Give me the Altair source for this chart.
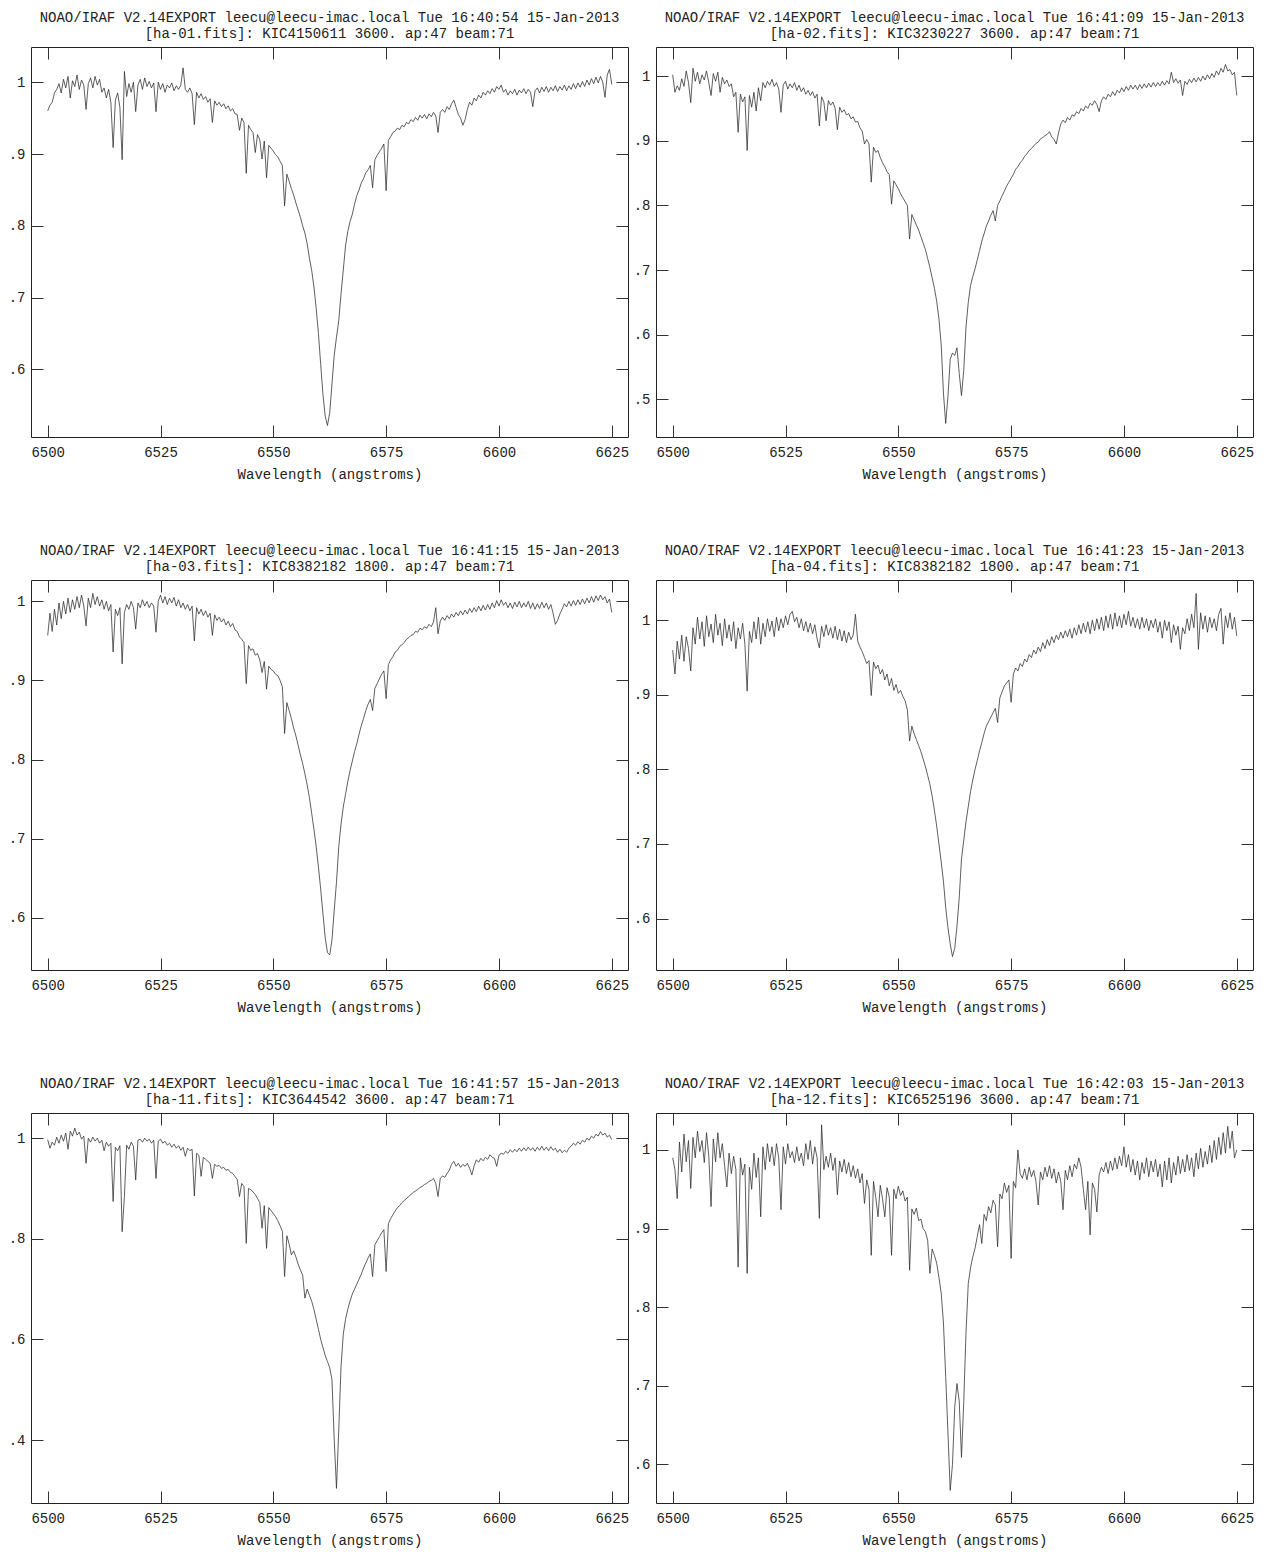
import altair as alt
import pandas as pd

FONT = "Liberation Mono"
INK = "#222222"

# Wavelength grid (angstroms), 0.5 A sampling from 6500 to 6625
WAVE_START = 6500.0
WAVE_STEP = 0.5

X_TICKS = [6500, 6525, 6550, 6575, 6600, 6625]
X_DOMAIN = [6496.3, 6628.6]

HEADER = "NOAO/IRAF V2.14EXPORT leecu@leecu-imac.local Tue {} 15-Jan-2013"

TIMES = ["16:40:54", "16:41:09", "16:41:15", "16:41:23", "16:41:57", "16:42:03"]
SUBTITLES = [
    "[ha-01.fits]: KIC4150611 3600. ap:47 beam:71",
    "[ha-02.fits]: KIC3230227 3600. ap:47 beam:71",
    "[ha-03.fits]: KIC8382182 1800. ap:47 beam:71",
    "[ha-04.fits]: KIC8382182 1800. ap:47 beam:71",
    "[ha-11.fits]: KIC3644542 3600. ap:47 beam:71",
    "[ha-12.fits]: KIC6525196 3600. ap:47 beam:71",
]

Y_DOMAINS = [
    [0.506, 1.049],
    [0.442, 1.045],
    [0.534, 1.027],
    [0.531, 1.054],
    [0.275, 1.050],
    [0.551, 1.047],
]
Y_TICKS = [
    [0.6, 0.7, 0.8, 0.9, 1.0],
    [0.5, 0.6, 0.7, 0.8, 0.9, 1.0],
    [0.6, 0.7, 0.8, 0.9, 1.0],
    [0.6, 0.7, 0.8, 0.9, 1.0],
    [0.4, 0.6, 0.8, 1.0],
    [0.6, 0.7, 0.8, 0.9, 1.0],
]

FLUX_01 = [
    0.960, 0.968, 0.972, 0.985, 0.990, 0.998, 0.985, 1.004, 0.992, 1.008, 0.978, 1.002, 0.994, 1.010, 0.990, 1.003, 0.996, 0.962, 0.998, 1.006,
    0.992, 1.008, 0.996, 1.004, 0.986, 0.992, 0.978, 0.990, 0.972, 0.909, 0.975, 0.985, 0.965, 0.892, 1.015, 0.980, 0.998, 0.986, 1.000, 0.959,
    0.996, 1.004, 0.990, 1.006, 0.994, 1.001, 0.992, 0.999, 0.959, 1.000, 0.990, 0.998, 0.986, 0.996, 0.992, 0.999, 0.988, 0.995, 0.990, 0.996,
    1.020, 0.990, 0.986, 0.992, 0.984, 0.941, 0.986, 0.978, 0.984, 0.976, 0.980, 0.972, 0.977, 0.944, 0.974, 0.968, 0.972, 0.966, 0.970, 0.963,
    0.967, 0.960, 0.963, 0.956, 0.955, 0.933, 0.950, 0.944, 0.873, 0.940, 0.934, 0.930, 0.902, 0.927, 0.920, 0.893, 0.918, 0.867, 0.912, 0.908,
    0.904, 0.899, 0.896, 0.890, 0.884, 0.828, 0.872, 0.862, 0.852, 0.843, 0.832, 0.822, 0.812, 0.800, 0.790, 0.775, 0.755, 0.738, 0.715, 0.685,
    0.650, 0.607, 0.565, 0.535, 0.522, 0.540, 0.580, 0.620, 0.645, 0.668, 0.705, 0.738, 0.772, 0.792, 0.806, 0.816, 0.830, 0.842, 0.850, 0.860,
    0.866, 0.874, 0.878, 0.884, 0.853, 0.892, 0.898, 0.903, 0.908, 0.914, 0.849, 0.919, 0.924, 0.930, 0.932, 0.936, 0.934, 0.940, 0.938, 0.944,
    0.942, 0.948, 0.945, 0.951, 0.947, 0.954, 0.950, 0.955, 0.949, 0.956, 0.952, 0.958, 0.953, 0.930, 0.958, 0.962, 0.958, 0.966, 0.962, 0.970,
    0.975, 0.965, 0.955, 0.950, 0.940, 0.948, 0.962, 0.972, 0.968, 0.978, 0.974, 0.982, 0.978, 0.986, 0.982, 0.988, 0.984, 0.991, 0.986, 0.994,
    0.990, 0.996, 0.986, 0.990, 0.982, 0.988, 0.984, 0.990, 0.982, 0.989, 0.985, 0.991, 0.984, 0.990, 0.986, 0.966, 0.988, 0.992, 0.985, 0.993,
    0.987, 0.994, 0.986, 0.993, 0.988, 0.995, 0.987, 0.994, 0.989, 0.996, 0.988, 0.995, 0.990, 0.998, 0.991, 0.999, 0.993, 1.001, 0.994, 1.003,
    0.996, 1.005, 0.998, 1.007, 0.999, 1.008, 1.000, 0.979, 1.010, 1.018, 0.997,
]

FLUX_02 = [
    1.002, 0.975, 0.985, 0.978, 0.996, 0.984, 1.008, 0.990, 0.959, 1.012, 0.992, 1.006, 0.988, 1.002, 0.994, 1.008, 0.990, 0.970, 1.004, 0.992,
    1.006, 0.975, 0.998, 0.988, 0.994, 0.984, 0.988, 0.968, 0.975, 0.913, 0.972, 0.960, 0.968, 0.885, 0.970, 0.952, 0.975, 0.946, 0.982, 0.962,
    0.990, 0.982, 0.992, 0.986, 0.995, 0.984, 0.990, 0.980, 0.944, 0.986, 0.992, 0.980, 0.988, 0.982, 0.990, 0.978, 0.986, 0.976, 0.982, 0.972,
    0.978, 0.970, 0.976, 0.966, 0.972, 0.923, 0.968, 0.960, 0.931, 0.962, 0.955, 0.960, 0.950, 0.917, 0.952, 0.944, 0.948, 0.940, 0.942, 0.934,
    0.937, 0.929, 0.930, 0.920, 0.915, 0.895, 0.902, 0.895, 0.836, 0.890, 0.882, 0.885, 0.874, 0.866, 0.860, 0.852, 0.848, 0.802, 0.838, 0.832,
    0.826, 0.818, 0.812, 0.806, 0.800, 0.748, 0.786, 0.778, 0.770, 0.762, 0.752, 0.742, 0.732, 0.718, 0.704, 0.688, 0.672, 0.652, 0.625, 0.585,
    0.510, 0.463, 0.505, 0.562, 0.572, 0.568, 0.580, 0.540, 0.506, 0.545, 0.612, 0.650, 0.676, 0.690, 0.702, 0.716, 0.730, 0.745, 0.756, 0.768,
    0.776, 0.785, 0.792, 0.776, 0.800, 0.807, 0.815, 0.822, 0.830, 0.836, 0.842, 0.848, 0.856, 0.860, 0.866, 0.870, 0.876, 0.880, 0.885, 0.888,
    0.892, 0.896, 0.898, 0.903, 0.905, 0.908, 0.910, 0.914, 0.906, 0.902, 0.895, 0.912, 0.926, 0.932, 0.928, 0.936, 0.932, 0.940, 0.938, 0.945,
    0.942, 0.950, 0.946, 0.954, 0.950, 0.958, 0.955, 0.962, 0.956, 0.945, 0.962, 0.968, 0.964, 0.972, 0.968, 0.976, 0.970, 0.978, 0.974, 0.982,
    0.976, 0.984, 0.978, 0.986, 0.980, 0.986, 0.979, 0.987, 0.981, 0.988, 0.982, 0.989, 0.983, 0.990, 0.984, 0.990, 0.985, 0.992, 0.986, 0.993,
    0.988, 1.006, 0.990, 0.996, 0.989, 0.994, 0.970, 0.992, 0.987, 0.995, 0.990, 0.997, 0.991, 0.998, 0.992, 1.000, 0.994, 1.002, 0.996, 1.004,
    0.998, 1.008, 1.002, 1.012, 1.006, 1.018, 1.008, 1.010, 1.002, 1.006, 0.970,
]

FLUX_03 = [
    0.957, 0.985, 0.962, 0.990, 0.970, 0.998, 0.978, 1.000, 0.984, 1.004, 0.986, 1.002, 0.990, 1.006, 0.992, 1.008, 0.994, 0.969, 1.004, 0.992,
    1.010, 0.996, 1.006, 0.994, 1.002, 0.990, 1.000, 0.988, 0.996, 0.936, 0.990, 0.982, 0.992, 0.921, 0.986, 0.996, 0.990, 1.000, 0.992, 0.965,
    0.998, 0.992, 1.002, 0.994, 1.000, 0.992, 0.998, 0.994, 0.961, 1.000, 1.008, 0.998, 1.006, 0.996, 1.004, 0.998, 1.005, 0.994, 1.002, 0.992,
    0.998, 0.990, 0.996, 0.988, 0.994, 0.950, 0.992, 0.984, 0.990, 0.982, 0.988, 0.980, 0.985, 0.957, 0.983, 0.976, 0.980, 0.974, 0.978, 0.970,
    0.975, 0.968, 0.972, 0.964, 0.962, 0.955, 0.952, 0.948, 0.896, 0.944, 0.938, 0.940, 0.932, 0.934, 0.926, 0.910, 0.924, 0.889, 0.918, 0.914,
    0.912, 0.908, 0.906, 0.900, 0.892, 0.833, 0.872, 0.862, 0.852, 0.840, 0.830, 0.818, 0.806, 0.795, 0.782, 0.768, 0.752, 0.732, 0.712, 0.690,
    0.664, 0.636, 0.605, 0.575, 0.556, 0.553, 0.572, 0.610, 0.645, 0.690, 0.718, 0.740, 0.756, 0.772, 0.786, 0.798, 0.810, 0.820, 0.832, 0.843,
    0.852, 0.862, 0.870, 0.876, 0.862, 0.890, 0.896, 0.902, 0.908, 0.912, 0.877, 0.920, 0.926, 0.930, 0.936, 0.938, 0.943, 0.945, 0.948, 0.952,
    0.954, 0.957, 0.958, 0.962, 0.961, 0.966, 0.964, 0.968, 0.966, 0.971, 0.968, 0.974, 0.992, 0.959, 0.975, 0.980, 0.976, 0.982, 0.978, 0.984,
    0.980, 0.986, 0.982, 0.988, 0.983, 0.989, 0.984, 0.991, 0.986, 0.992, 0.987, 0.994, 0.988, 0.995, 0.989, 0.996, 0.990, 0.998, 0.992, 1.001,
    0.994, 1.002, 0.995, 0.999, 0.992, 0.998, 0.991, 0.999, 0.993, 1.000, 0.992, 0.998, 0.993, 1.000, 0.991, 0.998, 0.990, 0.997, 0.991, 0.999,
    0.992, 0.998, 0.990, 0.996, 0.985, 0.971, 0.976, 0.984, 0.990, 0.997, 0.993, 1.000, 0.994, 1.001, 0.995, 1.002, 0.996, 1.003, 0.997, 1.004,
    0.998, 1.006, 0.999, 1.007, 1.001, 1.008, 1.002, 1.006, 0.998, 1.003, 0.986,
]

FLUX_04 = [
    0.960, 0.928, 0.972, 0.948, 0.980, 0.945, 0.978, 0.962, 0.932, 0.990, 0.968, 1.004, 0.975, 0.998, 0.965, 1.006, 0.978, 0.995, 0.970, 1.008,
    0.980, 0.996, 0.966, 1.002, 0.976, 0.994, 0.972, 0.998, 0.962, 0.990, 0.975, 0.996, 0.968, 0.905, 0.985, 0.970, 0.998, 0.975, 1.004, 0.968,
    0.996, 0.978, 1.002, 0.985, 0.999, 0.978, 1.004, 0.986, 1.002, 0.990, 1.006, 0.994, 1.008, 1.012, 0.998, 1.004, 0.990, 1.002, 0.986, 0.998,
    0.984, 0.996, 0.982, 0.994, 0.975, 0.963, 0.992, 0.978, 0.994, 0.980, 0.990, 0.976, 0.992, 0.974, 0.988, 0.972, 0.986, 0.970, 0.984, 0.974,
    0.980, 1.008, 0.972, 0.964, 0.958, 0.950, 0.942, 0.946, 0.899, 0.944, 0.935, 0.940, 0.928, 0.934, 0.920, 0.928, 0.912, 0.922, 0.906, 0.914,
    0.902, 0.906, 0.898, 0.892, 0.880, 0.838, 0.858, 0.848, 0.840, 0.832, 0.824, 0.814, 0.804, 0.792, 0.780, 0.764, 0.745, 0.724, 0.700, 0.676,
    0.650, 0.615, 0.588, 0.566, 0.549, 0.560, 0.590, 0.628, 0.680, 0.705, 0.730, 0.750, 0.770, 0.786, 0.800, 0.812, 0.825, 0.836, 0.848, 0.858,
    0.864, 0.870, 0.876, 0.882, 0.863, 0.896, 0.904, 0.912, 0.916, 0.920, 0.890, 0.928, 0.936, 0.932, 0.942, 0.938, 0.948, 0.944, 0.954, 0.950,
    0.960, 0.955, 0.964, 0.958, 0.970, 0.962, 0.974, 0.966, 0.978, 0.970, 0.980, 0.974, 0.984, 0.976, 0.986, 0.978, 0.988, 0.976, 0.990, 0.980,
    0.994, 0.982, 0.996, 0.984, 0.998, 0.982, 1.000, 0.986, 1.002, 0.988, 1.004, 0.986, 1.006, 0.990, 1.008, 0.988, 1.010, 0.992, 1.006, 0.990,
    1.008, 0.994, 1.012, 0.992, 1.004, 0.990, 1.002, 0.988, 1.004, 0.990, 1.002, 0.986, 1.000, 0.990, 1.002, 0.984, 0.998, 0.976, 1.000, 0.986,
    0.998, 0.970, 0.994, 0.980, 0.992, 0.961, 0.990, 0.982, 1.002, 0.986, 1.008, 0.990, 1.036, 0.961, 1.010, 0.988, 1.006, 0.984, 1.004, 0.990,
    1.002, 0.986, 1.008, 1.016, 0.968, 1.006, 0.990, 1.010, 0.988, 1.004, 0.979,
]

FLUX_11 = [
    0.997, 0.980, 0.992, 0.986, 1.002, 0.990, 1.006, 0.994, 1.010, 0.978, 1.014, 1.004, 1.020, 1.006, 1.012, 0.998, 1.004, 0.950, 1.000, 0.992,
    1.002, 0.994, 1.000, 0.990, 0.996, 0.975, 0.992, 0.984, 0.990, 0.874, 0.982, 0.975, 0.985, 0.814, 0.884, 0.986, 0.978, 0.992, 0.984, 0.917,
    0.996, 0.998, 0.992, 1.000, 0.994, 0.998, 0.990, 0.996, 0.920, 0.994, 0.998, 0.990, 0.994, 0.986, 0.990, 0.982, 0.988, 0.980, 0.985, 0.976,
    0.982, 0.964, 0.980, 0.975, 0.978, 0.885, 0.970, 0.966, 0.924, 0.962, 0.958, 0.954, 0.950, 0.920, 0.948, 0.944, 0.946, 0.940, 0.942, 0.936,
    0.938, 0.932, 0.930, 0.924, 0.918, 0.884, 0.910, 0.904, 0.791, 0.900, 0.898, 0.893, 0.888, 0.880, 0.872, 0.821, 0.866, 0.781, 0.862, 0.856,
    0.850, 0.844, 0.836, 0.826, 0.815, 0.725, 0.806, 0.790, 0.768, 0.776, 0.764, 0.750, 0.738, 0.728, 0.682, 0.700, 0.688, 0.676, 0.660, 0.640,
    0.620, 0.600, 0.584, 0.568, 0.556, 0.544, 0.520, 0.400, 0.304, 0.420, 0.545, 0.610, 0.640, 0.660, 0.676, 0.690, 0.700, 0.710, 0.720, 0.730,
    0.742, 0.752, 0.762, 0.770, 0.725, 0.788, 0.796, 0.804, 0.812, 0.818, 0.735, 0.830, 0.840, 0.848, 0.855, 0.862, 0.866, 0.872, 0.876, 0.880,
    0.884, 0.888, 0.892, 0.895, 0.898, 0.902, 0.904, 0.908, 0.910, 0.914, 0.916, 0.920, 0.910, 0.884, 0.920, 0.925, 0.922, 0.930, 0.936, 0.948,
    0.954, 0.944, 0.950, 0.942, 0.948, 0.944, 0.950, 0.940, 0.927, 0.945, 0.957, 0.952, 0.960, 0.955, 0.962, 0.958, 0.967, 0.962, 0.960, 0.944,
    0.966, 0.970, 0.968, 0.974, 0.970, 0.977, 0.972, 0.978, 0.973, 0.980, 0.974, 0.981, 0.975, 0.982, 0.976, 0.981, 0.974, 0.982, 0.976, 0.984,
    0.976, 0.982, 0.975, 0.983, 0.976, 0.980, 0.972, 0.978, 0.971, 0.976, 0.972, 0.980, 0.984, 0.990, 0.986, 0.993, 0.988, 0.996, 0.992, 1.000,
    0.996, 1.004, 1.000, 1.008, 1.004, 1.013, 1.006, 1.010, 1.002, 1.006, 0.997,
]

FLUX_12 = [
    0.990, 0.975, 0.938, 1.010, 0.972, 1.020, 0.985, 1.012, 0.951, 1.016, 0.990, 1.024, 0.998, 1.012, 0.984, 1.022, 0.992, 0.928, 1.014, 0.985,
    1.022, 0.990, 1.008, 0.980, 0.953, 0.996, 0.970, 0.992, 0.975, 0.851, 0.990, 0.968, 0.982, 0.843, 0.978, 0.950, 0.996, 0.965, 0.990, 0.915,
    1.004, 0.975, 1.008, 0.985, 1.004, 0.980, 1.008, 0.990, 0.924, 1.004, 0.982, 1.008, 0.990, 0.998, 0.984, 1.004, 0.986, 0.996, 0.980, 1.008,
    0.988, 1.012, 0.982, 1.004, 0.990, 0.913, 1.032, 0.975, 0.992, 0.978, 0.996, 0.974, 0.990, 0.943, 0.986, 0.972, 0.988, 0.970, 0.984, 0.966,
    0.980, 0.964, 0.976, 0.958, 0.970, 0.932, 0.962, 0.950, 0.866, 0.960, 0.940, 0.915, 0.955, 0.938, 0.915, 0.952, 0.940, 0.866, 0.950, 0.938,
    0.954, 0.942, 0.948, 0.935, 0.940, 0.847, 0.925, 0.918, 0.926, 0.910, 0.912, 0.900, 0.896, 0.885, 0.843, 0.874, 0.866, 0.856, 0.838, 0.818,
    0.780, 0.712, 0.640, 0.567, 0.600, 0.673, 0.703, 0.680, 0.609, 0.680, 0.768, 0.830, 0.850, 0.864, 0.875, 0.890, 0.905, 0.881, 0.918, 0.910,
    0.928, 0.920, 0.936, 0.930, 0.877, 0.944, 0.938, 0.958, 0.946, 0.955, 0.862, 0.960, 0.952, 1.000, 0.970, 0.964, 0.976, 0.962, 0.978, 0.966,
    0.974, 0.960, 0.930, 0.972, 0.962, 0.978, 0.966, 0.980, 0.964, 0.976, 0.958, 0.972, 0.960, 0.924, 0.974, 0.962, 0.980, 0.966, 0.982, 0.976,
    0.990, 0.978, 0.950, 0.924, 0.960, 0.892, 0.958, 0.950, 0.921, 0.968, 0.978, 0.972, 0.984, 0.970, 0.986, 0.974, 0.990, 0.976, 0.992, 0.980,
    1.004, 0.978, 0.994, 0.972, 0.988, 0.968, 0.986, 0.962, 0.984, 0.970, 0.990, 0.966, 0.986, 0.972, 0.988, 0.966, 0.982, 0.953, 0.986, 0.962,
    0.990, 0.958, 0.984, 0.968, 0.992, 0.970, 0.988, 0.972, 0.994, 0.974, 0.990, 0.966, 0.996, 0.976, 1.002, 0.978, 0.998, 0.982, 1.006, 0.984,
    1.012, 0.988, 1.016, 0.994, 1.022, 0.996, 1.030, 1.002, 1.024, 0.990, 1.000,
]

SPECTRA = [FLUX_01, FLUX_02, FLUX_03, FLUX_04, FLUX_11, FLUX_12]

PANEL_W = 597
PANEL_H = 390
TICK = 12

Y_LABEL_EXPR = "datum.value >= 1 ? '1' : replace(format(datum.value, '.1f'), '0.', '.')"


def panel(flux, ydom, yticks, time_str, subtitle):
    df = pd.DataFrame({
        "wave": [WAVE_START + WAVE_STEP * i for i in range(len(flux))],
        "flux": flux,
    })
    xs = alt.Scale(domain=X_DOMAIN, nice=False, zero=False)
    ys = alt.Scale(domain=ydom, nice=False, zero=False)

    bottom_axis = alt.Axis(
        orient="bottom", values=X_TICKS, format="d", tickSize=TICK, offset=-TICK,
        domain=False, grid=False, tickColor="#333333", tickWidth=1,
        labelFont=FONT, labelFontSize=14, labelColor=INK, labelPadding=8,
        labelFlush=False, labelOverlap=False,
        titleFont=FONT, titleFontSize=14, titleFontWeight="normal", titleColor=INK,
        titlePadding=8,
    )
    left_axis = alt.Axis(
        orient="left", values=yticks, labelExpr=Y_LABEL_EXPR, tickSize=TICK, offset=-TICK,
        domain=False, grid=False, tickColor="#333333", tickWidth=1,
        labelFont=FONT, labelFontSize=14, labelColor=INK, labelPadding=6,
        labelFlush=False, labelOverlap=False,
    )
    top_axis = alt.Axis(
        orient="top", values=X_TICKS, tickSize=TICK, offset=-TICK, domain=False,
        grid=False, labels=False, tickColor="#333333", tickWidth=1,
    )
    right_axis = alt.Axis(
        orient="right", values=yticks, tickSize=TICK, offset=-TICK, domain=False,
        grid=False, labels=False, tickColor="#333333", tickWidth=1,
    )

    base = alt.Chart(df)
    spectrum = base.mark_line(color="#2a2a2a", strokeWidth=0.75, clip=True).encode(
        x=alt.X("wave:Q", scale=xs, axis=bottom_axis, title="Wavelength (angstroms)"),
        y=alt.Y("flux:Q", scale=ys, axis=left_axis, title=None),
    )
    frame_ticks = base.mark_line(opacity=0).encode(
        x=alt.X("wave:Q", scale=xs, axis=top_axis, title=None),
        y=alt.Y("flux:Q", scale=ys, axis=right_axis, title=None),
    )
    return alt.layer(
        spectrum, frame_ticks,
        title=alt.TitleParams(
            text=[HEADER.format(time_str), subtitle],
            font=FONT, fontSize=14, fontWeight="normal", color=INK,
            anchor="middle", offset=6, lineHeight=16,
        ),
    ).resolve_axis(x="independent", y="independent").properties(
        width=PANEL_W, height=PANEL_H,
        view=alt.ViewBackground(stroke="#222222", strokeWidth=1),
    )


panels = [
    panel(SPECTRA[i], Y_DOMAINS[i], Y_TICKS[i], TIMES[i], SUBTITLES[i])
    for i in range(6)
]

chart = alt.concat(
    *panels,
    columns=2,
    spacing={"row": 143, "column": 28},
    bounds="flush",
    padding={"left": 7, "top": 10, "right": 0, "bottom": 0},
    background="white",
).configure_view(stroke="#222222", strokeWidth=1)

chart.save("out.html", embed_options={"renderer": "svg", "actions": False})
